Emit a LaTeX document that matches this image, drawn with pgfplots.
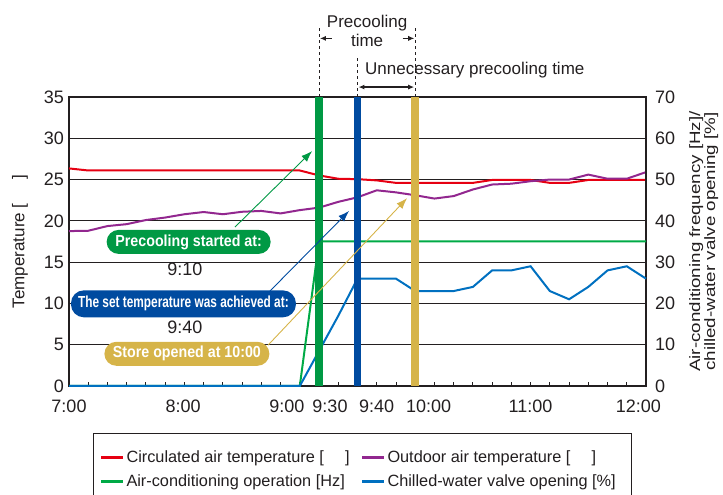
\documentclass[border=0pt]{standalone}
\usepackage{fontspec}
\setmainfont{Liberation Sans}
\newfontfamily\boxfont[FakeStretch=0.89]{Liberation Sans}
\newfontfamily\boxfontn[FakeStretch=0.74]{Liberation Sans}
\newfontfamily\widefont[FakeStretch=1.25]{Liberation Sans}
\usepackage{graphicx}
\usepackage{pgfplots}
\pgfplotsset{compat=1.18}
\usetikzlibrary{arrows.meta}
\definecolor{cRed}{RGB}{230,0,18}
\definecolor{cPurple}{RGB}{146,39,143}
\definecolor{cGreenL}{RGB}{0,170,70}
\definecolor{cGreenB}{RGB}{0,153,68}
\definecolor{cBlueL}{RGB}{0,112,192}
\definecolor{cBlueB}{RGB}{0,75,160}
\definecolor{cYellow}{RGB}{214,180,73}
\definecolor{cText}{RGB}{35,31,32}
\begin{document}
\begin{tikzpicture}
\useasboundingbox (0,0) rectangle (723pt,495pt);
\begin{axis}[
  at={(69pt,109pt)}, anchor=south west,
  scale only axis, width=577pt, height=289pt,
  xmin=0, xmax=30, ymin=0, ymax=35,
  axis line style={line width=1.3pt, draw=cText},
  ytick={0,5,...,35}, ymajorgrids,
  grid style={line width=1.2pt, draw=cText},
  ytick pos=left, xtick pos=left,
  y tick style={draw=none},
  xtick={0,5.94,11.33,13.57,16,18.7,24,29.6},
  xticklabels={7:00,8:00,9:00,9:30,9:40,10:00,11:00,12:00},
  major x tick style={draw=none},
  minor xtick={1,...,29},
  minor x tick style={line width=0.9pt, draw=cText},
  minor tick length=4pt, tick align=inside,
  tick label style={font=\fontsize{18}{18}\selectfont, text=cText},
  xticklabel style={anchor=base, inner sep=0pt, yshift=-26.5pt},
  yticklabel style={anchor=east, inner sep=0pt, xshift=-5pt},
  /pgf/number format/assume math mode=true,
  ylabel={Temperature [\hspace{1.4em}]},
  ylabel style={at={(axis description cs:-0.085,0.5)}, anchor=center, rotate=0, font=\fontsize{17}{17}\selectfont, text=cText},
]
\addplot[cRed, line width=2pt] coordinates {
(0,26.35)(1,26.1)(2,26.1)(3,26.1)(4,26.1)(5,26.1)(6,26.1)(7,26.1)(8,26.1)(9,26.1)(10,26.1)(11,26.1)(12,26.1)
(13,25.5)(14,25.1)(15,25.05)(16,24.9)(17,24.6)(18,24.6)(19,24.6)(20,24.6)(21,24.6)(22,24.95)(23,24.95)(24,24.95)
(25,24.6)(26,24.6)(27,24.95)(28,24.95)(29,24.95)(30,24.95)};
\addplot[cPurple, line width=2pt] coordinates {
(0,18.76)(1,18.8)(2,19.37)(3,19.6)(4,20.1)(5,20.4)(6,20.8)(7,21.07)(8,20.8)(9,21.1)(10,21.2)(11,20.9)(12,21.3)
(13,21.6)(14,22.3)(15,22.85)(16,23.7)(17,23.45)(18,23.1)(19,22.7)(20,23.0)(21,23.8)(22,24.4)(23,24.5)(24,24.8)
(25,25.0)(26,25.0)(27,25.6)(28,25.1)(29,25.1)(30,25.9)};
\end{axis}
\begin{axis}[
  at={(69pt,109pt)}, anchor=south west,
  scale only axis, width=577pt, height=289pt,
  xmin=0, xmax=30, ymin=0, ymax=70,
  axis x line=none, axis y line*=right,
  axis line style={-, line width=1.3pt, draw=cText},
  ytick={0,10,...,70}, y tick style={draw=none},
  tick label style={font=\fontsize{18}{18}\selectfont, text=cText},
  yticklabel style={anchor=west, inner sep=0pt, xshift=9pt},
  /pgf/number format/assume math mode=true,
  ylabel={Air-conditioning frequency [Hz]/\\chilled-water valve opening [\%]},
  ylabel style={at={(axis description cs:1.1,0.5)}, anchor=center, align=center, font=\widefont\fontsize{15}{15}\selectfont, text=cText},
  clip=false,
  legend columns=2,
  legend style={at={(axis description cs:0.0416,-0.163)}, anchor=north west,
    draw=cText, line width=1pt, font=\fontsize{16.3}{19}\selectfont, text=cText,
    inner xsep=6pt, inner ysep=15pt, row sep=7pt},
  legend cell align=left,
  legend image code/.code={\draw[#1, line width=3pt] (0pt,0pt) -- (22pt,0pt);},
]
\addlegendimage{cRed}
\addlegendentry{\makebox[232pt][l]{Circulated air temperature [\hspace{1.3em}]}}
\addlegendimage{cPurple}
\addlegendentry{\makebox[236pt][l]{Outdoor air temperature [\hspace{1.3em}]}}
\addplot[cGreenL, line width=2pt] coordinates {
(0,0)(1,0)(2,0)(3,0)(4,0)(5,0)(6,0)(7,0)(8,0)(9,0)(10,0)(11,0)(12,0)
(13,35)(14,35)(15,35)(16,35)(17,35)(18,35)(19,35)(20,35)(21,35)(22,35)(23,35)(24,35)
(25,35)(26,35)(27,35)(28,35)(29,35)(30,35)};
\addlegendentry{\makebox[232pt][l]{Air-conditioning operation [Hz]}}
\addplot[cBlueL, line width=2pt] coordinates {
(0,0)(1,0)(2,0)(3,0)(4,0)(5,0)(6,0)(7,0)(8,0)(9,0)(10,0)(11,0)(12,0)
(13,8.5)(14,17)(15,26)(16,26)(17,26)(18,23)(19,23)(20,23)(21,24)(22,28)(23,28)(24,29)
(25,23)(26,21)(27,24)(28,28)(29,29)(30,26)};
\addlegendentry{\makebox[236pt][l]{Chilled-water valve opening [\%]}}
% event bars
\addplot[cGreenB, line width=7.5pt, forget plot] coordinates {(13,0)(13,70)};
\addplot[cBlueB, line width=7.5pt, forget plot] coordinates {(15,0)(15,70)};
\addplot[cYellow, line width=7.5pt, forget plot] coordinates {(18,0)(18,70)};
% top annotations
\draw[cText, dashed, line width=0.8pt] (axis cs:13,70) -- (axis cs:13,86.7);
\draw[cText, dashed, line width=0.8pt] (axis cs:18,70) -- (axis cs:18,86.7);
\draw[cText, dashed, line width=0.8pt] (axis cs:15,70) -- (axis cs:15,79.5);
\draw[cText, line width=0.9pt, -{Latex[length=6pt,width=5pt]}] (axis cs:13.65,84.2) -- (axis cs:13.05,84.2);
\draw[cText, line width=0.9pt, -{Latex[length=6pt,width=5pt]}] (axis cs:17.35,84.2) -- (axis cs:17.95,84.2);
\draw[cText, line width=1.2pt, {Latex[length=6pt,width=5pt]}-{Latex[length=6pt,width=5pt]}] (axis cs:15.05,72.4) -- (axis cs:17.95,72.4);
\node[text=cText, font=\fontsize{17}{17}\selectfont, inner sep=0pt] at (axis cs:15.5,88.0) {Precooling};
\node[text=cText, font=\fontsize{17}{17}\selectfont, inner sep=0pt] at (axis cs:15.5,83.6) {time};
\node[text=cText, font=\fontsize{17}{17}\selectfont, inner sep=0pt] at (axis cs:21.1,76.5) {Unnecessary precooling time};
% callout arrows
\draw[cGreenB, line width=0.9pt, -{Latex[length=11pt,width=8pt]}] (axis cs:8.63,38.5) -- (axis cs:12.64,56.9);
\draw[cBlueB, line width=0.9pt, -{Latex[length=11pt,width=8pt]}] (axis cs:10.45,23.0) -- (axis cs:14.56,42.4);
\draw[cYellow, line width=0.9pt, -{Latex[length=11pt,width=8pt]}] (axis cs:10.35,9.9) -- (axis cs:17.58,45.5);
% callout boxes
\node[fill=cGreenB, text=white, rounded corners=12pt, minimum width=164pt, minimum height=24pt, inner sep=0pt,
  font=\boxfont\bfseries\fontsize{16}{16}\selectfont] at (axis cs:6.22,34.9) {Precooling started at:};
\node[text=cText, font=\fontsize{18}{18}\selectfont, inner sep=0pt] at (axis cs:6.03,28.3) {9:10};
\node[fill=cBlueB, text=white, rounded corners=13pt, minimum width=225pt, minimum height=27pt, inner sep=0pt,
  font=\boxfontn\bfseries\fontsize{16}{16}\selectfont] at (axis cs:5.95,19.9) {The set temperature was achieved at:};
\node[text=cText, font=\fontsize{18}{18}\selectfont, inner sep=0pt] at (axis cs:6.03,14.1) {9:40};
\node[fill=cYellow, text=white, rounded corners=12pt, minimum width=165pt, minimum height=24pt, inner sep=0pt,
  font=\boxfont\bfseries\fontsize{16}{16}\selectfont] at (axis cs:6.13,7.8) {Store opened at 10:00};
\end{axis}
\end{tikzpicture}
\end{document}
